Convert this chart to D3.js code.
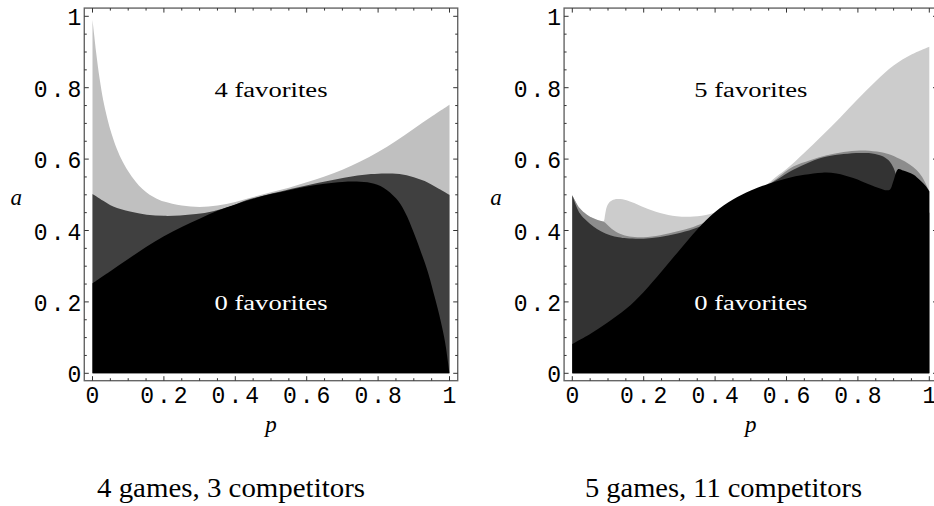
<!DOCTYPE html>
<html>
<head>
<meta charset="utf-8">
<script src="https://cdn.jsdelivr.net/npm/d3@7"></script>
<style>
  body { margin: 0; background: #fff; }
  svg { display: block; }
</style>
</head>
<body>
<svg id="chart" width="934" height="506"></svg>
<script>
// Tick values and labels (both axes)
const tickValues = [0, 0.2, 0.4, 0.6, 0.8, 1];
const tickLabels = ['0', '0.2', '0.4', '0.6', '0.8', '1'];
const minorTicks = d3.range(0, 21).map(i => i / 20);

// Left panel: upper edge [p, a] of each shaded region
const leftLightEdge = [[0,0.99],[0.005,0.945],[0.01,0.9],[0.02,0.825],[0.03,0.765],[0.04,0.72],[0.05,0.682],
  [0.065,0.637],[0.08,0.602],[0.1,0.566],[0.12,0.538],[0.14,0.516],[0.16,0.5],[0.18,0.489],[0.2,0.481],
  [0.25,0.47],[0.3,0.466],[0.35,0.47],[0.4,0.48],[0.45,0.494],[0.5,0.507],[0.55,0.52],[0.6,0.535],
  [0.65,0.551],[0.7,0.57],[0.75,0.593],[0.8,0.62],[0.85,0.651],[0.9,0.685],[0.95,0.719],[1,0.752]];
const leftDarkEdge = [[0,0.502],[0.03,0.483],[0.058,0.467],[0.105,0.453],[0.152,0.444],[0.2,0.441],[0.245,0.442],
  [0.29,0.446],[0.338,0.454],[0.385,0.467],[0.43,0.485],[0.48,0.498],[0.53,0.51],[0.58,0.522],[0.63,0.533],
  [0.68,0.543],[0.73,0.552],[0.78,0.558],[0.82,0.56],[0.86,0.558],[0.9,0.549],[0.94,0.534],[0.97,0.517],[1,0.5]];
const leftBlackEdge = [[0,0.252],[0.05,0.286],[0.1,0.32],[0.15,0.354],[0.2,0.384],[0.25,0.41],[0.3,0.433],
  [0.35,0.455],[0.4,0.473],[0.45,0.489],[0.5,0.502],[0.55,0.513],[0.6,0.523],[0.65,0.531],[0.7,0.536],
  [0.74,0.537],[0.78,0.533],[0.815,0.52],[0.85,0.49],[0.875,0.452],[0.9,0.394],[0.92,0.34],[0.94,0.282],
  [0.96,0.208],[0.975,0.148],[0.988,0.085],[1,0]];

// Right panel: upper edge [p, a] of each shaded region
const rightLightEdge = [[0,0.499],[0.021,0.462],[0.04,0.445],[0.059,0.434],[0.075,0.428],[0.087,0.425],[0.092,0.445],
  [0.097,0.467],[0.106,0.481],[0.118,0.487],[0.13,0.488],[0.152,0.485],[0.175,0.476],[0.2,0.465],[0.246,0.449],
  [0.292,0.44],[0.339,0.439],[0.386,0.446],[0.432,0.462],[0.479,0.486],[0.526,0.514],[0.573,0.552],[0.6,0.572],
  [0.65,0.618],[0.7,0.666],[0.75,0.716],[0.8,0.768],[0.85,0.818],[0.9,0.862],[0.95,0.893],[1,0.915]];
const rightMidEdge = [[0,0.499],[0.021,0.462],[0.04,0.445],[0.059,0.434],[0.075,0.428],[0.087,0.425],[0.11,0.405],
  [0.135,0.39],[0.16,0.383],[0.2,0.381],[0.246,0.387],[0.292,0.397],[0.339,0.41],[0.386,0.43],[0.432,0.46],
  [0.479,0.487],[0.526,0.514],[0.573,0.546],[0.619,0.579],[0.666,0.597],[0.713,0.611],[0.76,0.62],[0.806,0.624],
  [0.853,0.621],[0.885,0.614],[0.918,0.6],[0.945,0.585],[0.965,0.569],[0.98,0.55],[0.993,0.525],[1,0.51]];
const rightDarkEdge = [[0,0.499],[0.021,0.448],[0.04,0.427],[0.059,0.411],[0.08,0.398],[0.106,0.387],[0.13,0.381],
  [0.152,0.378],[0.2,0.377],[0.246,0.382],[0.292,0.391],[0.339,0.404],[0.386,0.425],[0.432,0.457],[0.479,0.485],
  [0.526,0.513],[0.573,0.542],[0.619,0.57],[0.666,0.592],[0.713,0.607],[0.76,0.614],[0.806,0.617],[0.84,0.616],
  [0.871,0.607],[0.89,0.592],[0.9,0.575],[0.907,0.555],[0.912,0.53],[0.92,0.5],[1,0.45]];
const rightBlackEdge = [[0,0.082],[0.05,0.11],[0.1,0.143],[0.15,0.18],[0.2,0.228],[0.25,0.285],[0.3,0.345],
  [0.35,0.403],[0.4,0.452],[0.45,0.487],[0.5,0.512],[0.55,0.531],[0.6,0.546],[0.65,0.556],[0.7,0.562],
  [0.74,0.56],[0.787,0.547],[0.834,0.528],[0.86,0.518],[0.876,0.513],[0.89,0.515],[0.9,0.54],
  [0.913,0.572],[0.927,0.568],[0.955,0.557],[0.975,0.54],[0.99,0.525],[1,0.51]];

const topLabels = ['4 favorites', '5 favorites'];
const bottomLabels = ['0 favorites', '0 favorites'];
const captions = ['4 games, 3 competitors', '5 games, 11 competitors'];

const MONO = '"Liberation Mono", "Courier New", monospace';
const SERIF = '"Liberation Serif", "DejaVu Serif", "Times New Roman", serif';

const svg = d3.select('#chart');

const panels = [
  { left: 92.5, layers: [
      { edge: leftLightEdge, color: '#c0c0c0' },
      { edge: leftDarkEdge, color: '#404040' },
      { edge: leftBlackEdge, color: '#000000' }],
    top: topLabels[0], bottom: bottomLabels[0], caption: captions[0], capX: 97, capW: 268 },
  { left: 572.3, layers: [
      { edge: rightLightEdge, color: '#cccccc' },
      { edge: rightMidEdge, color: '#8c8c8c' },
      { edge: rightDarkEdge, color: '#333333' },
      { edge: rightBlackEdge, color: '#000000' }],
    top: topLabels[1], bottom: bottomLabels[1], caption: captions[1], capX: 585, capW: 277 }
];

const size = 357, pad = 0.023;

panels.forEach(panel => {
  const x = d3.scaleLinear().domain([0, 1]).range([panel.left, panel.left + size]);
  const y = d3.scaleLinear().domain([0, 1]).range([373.3, 373.3 - size]);
  const g = svg.append('g');

  // Shaded regions: lighter layers first, black on top
  const area = d3.area()
    .x(d => x(d[0]))
    .y0(y(0))
    .y1(d => y(d[1]))
    .curve(d3.curveCatmullRom.alpha(0.5));
  panel.layers.forEach(layer => {
    g.append('path').datum(layer.edge)
      .attr('fill', layer.color)
      .attr('d', area);
  });

  // Frame
  const fx0 = x(-pad), fx1 = x(1 + pad), fy0 = y(1 + pad), fy1 = y(-pad * 0.9);
  g.append('rect')
    .attr('x', fx0).attr('y', fy0)
    .attr('width', fx1 - fx0).attr('height', fy1 - fy0)
    .attr('fill', 'none').attr('stroke', '#666').attr('stroke-width', 1.4);

  // Ticks on all four sides, pointing inward
  const ticks = g.append('g').attr('stroke', '#333').attr('stroke-width', 1);
  minorTicks.forEach(v => {
    const major = tickValues.some(t => Math.abs(t - v) < 1e-9);
    const len = major ? 4.5 : 2.5;
    ticks.append('line').attr('x1', x(v)).attr('x2', x(v)).attr('y1', fy1).attr('y2', fy1 - len);
    ticks.append('line').attr('x1', x(v)).attr('x2', x(v)).attr('y1', fy0).attr('y2', fy0 + len);
    ticks.append('line').attr('y1', y(v)).attr('y2', y(v)).attr('x1', fx0).attr('x2', fx0 + len);
    ticks.append('line').attr('y1', y(v)).attr('y2', y(v)).attr('x1', fx1).attr('x2', fx1 - len);
  });

  // Tick labels
  tickValues.forEach((v, i) => {
    g.append('text')
      .style('font-family', MONO).style('font-size', '23px').style('letter-spacing', '3px')
      .attr('x', x(v) + 1.5).attr('y', 403)
      .attr('text-anchor', 'middle')
      .text(tickLabels[i]);
    g.append('text')
      .style('font-family', MONO).style('font-size', '23px').style('letter-spacing', '3px')
      .attr('x', fx0).attr('y', y(v) + 9)
      .attr('text-anchor', 'end')
      .text(tickLabels[i]);
  });

  // Axis variables
  g.append('text')
    .style('font-family', SERIF).style('font-style', 'italic').style('font-size', '23px')
    .attr('x', fx0 - 68).attr('y', 205)
    .attr('text-anchor', 'middle').text('a');
  g.append('text')
    .style('font-family', SERIF).style('font-style', 'italic').style('font-size', '23px')
    .attr('x', x(0.5)).attr('y', 432)
    .attr('text-anchor', 'middle').text('p');

  // Region labels
  g.append('text')
    .style('font-family', SERIF).style('font-size', '20px')
    .attr('x', x(0.5) - 56.5).attr('y', 97)
    .attr('textLength', 113).attr('lengthAdjust', 'spacingAndGlyphs')
    .attr('fill', '#000').text(panel.top);
  g.append('text')
    .style('font-family', SERIF).style('font-size', '20px')
    .attr('x', x(0.5) - 56.5).attr('y', 310)
    .attr('textLength', 113).attr('lengthAdjust', 'spacingAndGlyphs')
    .attr('fill', '#fff').text(panel.bottom);

  // Caption
  svg.append('text')
    .style('font-family', SERIF).style('font-size', '27px')
    .attr('x', panel.capX).attr('y', 497)
    .attr('textLength', panel.capW).attr('lengthAdjust', 'spacingAndGlyphs')
    .text(panel.caption);
});
</script>
</body>
</html>
